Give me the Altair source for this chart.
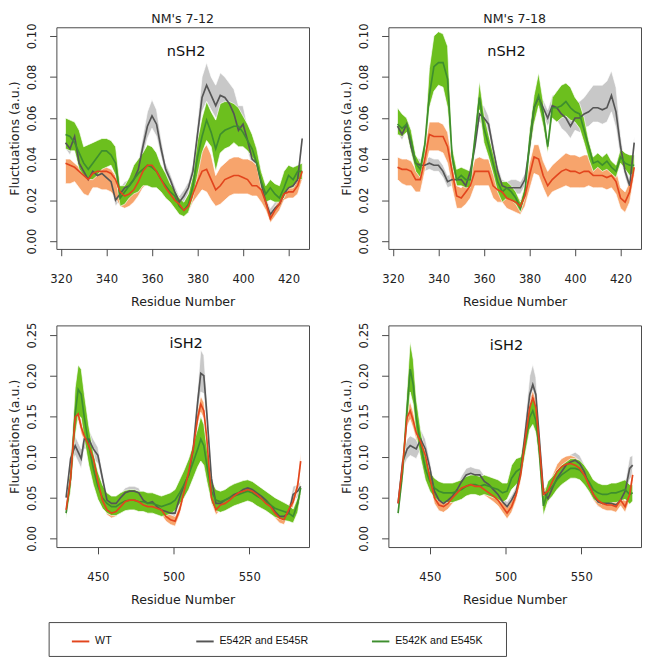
import altair as alt
import pandas as pd

SERIES = ["WT", "E542R and E545R", "E542K and E545K"]
LINE_COLORS = ["#E2451D", "#555555", "#3E8E2E"]
BAND_COLORS = ["#F7A46C", "#C8C8C8", "#6CBF1E"]

COL_TITLES = ["NM's 7-12", "NM's 7-18"]
DOMAINS = ["nSH2", "iSH2"]

RES_N = list(range(322, 427, 2))
RES_I = [429, 432, 435, 437, 439, 441, 444, 447, 450, 453, 456, 459, 462, 465, 468, 471,
         474, 477, 480, 483, 486, 489, 492, 495, 498, 501, 504, 507, 510, 513, 516, 518,
         520, 522, 525, 528, 531, 534, 537, 540, 543, 546, 549, 552, 555, 558, 561, 564,
         567, 570, 573, 576, 579, 582, 584]

X_TICKS_N = [320, 340, 360, 380, 400, 420]
X_TICKS_I = [450, 500, 550]
Y_TICKS_N = [0.00, 0.02, 0.04, 0.06, 0.08, 0.10]
Y_TICKS_I = [0.00, 0.05, 0.10, 0.15, 0.20, 0.25]

# ---------------- NM's 7-12, nSH2 ----------------
A_WT = [.038,.037,.036,.034,.032,.030,.033,.034,.034,.034, .033,.030,.024,.022,.023,.025,.029,.034,.037,.037,
        .034,.030,.026,.023,.020,.018,.015,.017,.023,.029, .034,.035,.030,.025,.027,.030,.031,.032,.032,.031,
        .030,.027,.027,.025,.019,.011,.015,.018,.023,.024, .024,.027,.034]
A_WT_HI = [.040,.040,.038,.036,.034,.033,.035,.036,.036,.036, .035,.032,.026,.025,.025,.028,.031,.036,.039,.039,
           .036,.032,.028,.025,.022,.020,.017,.019,.027,.036, .044,.047,.042,.032,.036,.038,.040,.041,.041,.040,
           .040,.039,.037,.033,.023,.013,.017,.020,.025,.026, .026,.030,.036]
A_WT_LO = [.028,.028,.029,.026,.023,.022,.026,.026,.025,.025, .024,.021,.017,.016,.017,.019,.022,.026,.028,.029,
           .027,.024,.021,.019,.017,.015,.013,.014,.019,.022, .025,.024,.020,.017,.018,.020,.022,.023,.023,.023,
           .023,.022,.022,.019,.015,.009,.012,.015,.020,.021, .021,.023,.030]
A_GR = [.048,.045,.051,.038,.034,.030,.034,.032,.033,.031, .029,.020,.023,.026,.027,.030,.035,.046,.056,.061,
        .057,.045,.035,.030,.024,.019,.022,.026,.034,.052, .070,.076,.071,.066,.071,.070,.067,.062,.054,.057,
        .049,.040,.038,.028,.019,.013,.016,.018,.023,.026, .027,.030,.050]
A_GR_HI = [.050,.047,.053,.041,.037,.033,.036,.035,.036,.034, .032,.024,.026,.029,.030,.033,.039,.051,.063,.069,
           .064,.050,.038,.033,.027,.022,.025,.029,.038,.058, .080,.087,.080,.076,.082,.080,.077,.074,.066,.066,
           .056,.045,.041,.031,.022,.016,.019,.021,.026,.029, .030,.033,.052]
A_GR_LO = [.045,.042,.048,.035,.031,.027,.031,.029,.030,.028, .026,.017,.020,.023,.024,.027,.031,.041,.050,.055,
           .051,.041,.032,.027,.021,.016,.019,.023,.031,.047, .063,.068,.064,.060,.062,.062,.060,.056,.050,.052,
           .044,.036,.035,.025,.016,.010,.013,.015,.020,.023, .024,.027,.047]
A_GK = [.052,.051,.048,.043,.038,.035,.038,.041,.044,.044, .042,.038,.021,.024,.027,.030,.033,.035,.037,.036,
        .034,.030,.027,.024,.022,.017,.015,.018,.027,.041, .051,.059,.053,.045,.052,.054,.055,.056,.056,.053,
        .049,.045,.038,.029,.023,.026,.023,.021,.026,.032, .030,.034,.034]
A_GK_HI = [.060,.059,.058,.054,.046,.047,.048,.049,.050,.050, .049,.046,.027,.027,.031,.037,.040,.043,.047,.046,
           .043,.037,.033,.028,.025,.021,.019,.023,.032,.049, .060,.068,.063,.059,.067,.068,.068,.067,.065,.061,
           .057,.052,.045,.034,.027,.030,.028,.027,.034,.037, .036,.037,.038]
A_GK_LO = [.045,.044,.044,.035,.032,.030,.030,.032,.035,.036, .037,.032,.017,.018,.021,.023,.024,.027,.027,.026,
           .026,.024,.021,.019,.016,.013,.012,.014,.021,.032, .043,.049,.046,.034,.043,.045,.046,.048,.046,.046,
           .044,.041,.037,.026,.019,.020,.019,.019,.021,.026, .026,.030,.030]

# ---------------- NM's 7-18, nSH2 ----------------
B_WT = [.036,.035,.035,.034,.030,.030,.040,.052,.051,.051, .051,.046,.034,.022,.021,.024,.027,.034,.034,.034,
        .034,.027,.025,.024,.021,.020,.019,.017,.022,.032, .041,.040,.032,.027,.030,.032,.034,.035,.034,.034,
        .033,.034,.034,.032,.032,.032,.031,.032,.029,.021, .019,.024,.036]
B_WT_HI = [.041,.040,.040,.039,.035,.035,.046,.058,.058,.058, .057,.053,.040,.027,.026,.029,.032,.040,.041,.040,
           .040,.033,.030,.029,.026,.025,.023,.020,.027,.038, .047,.047,.039,.034,.037,.039,.041,.043,.042,.042,
           .041,.042,.042,.040,.039,.038,.037,.038,.035,.026, .024,.029,.039]
B_WT_LO = [.030,.028,.027,.027,.024,.024,.034,.044,.044,.044, .043,.038,.026,.016,.016,.018,.021,.027,.027,.027,
           .027,.021,.019,.019,.016,.015,.014,.013,.017,.025, .033,.032,.026,.021,.024,.025,.026,.027,.026,.026,
           .026,.026,.027,.026,.026,.026,.025,.026,.023,.016, .014,.019,.032]
B_GR = [.056,.052,.057,.046,.038,.037,.037,.038,.037,.037, .034,.029,.030,.030,.030,.027,.034,.046,.062,.060,
        .057,.045,.034,.027,.026,.026,.026,.026,.030,.046, .065,.070,.065,.060,.066,.065,.062,.060,.056,.060,
        .060,.062,.063,.065,.065,.064,.065,.071,.063,.046, .034,.027,.048]
B_GR_HI = [.059,.055,.060,.049,.041,.040,.040,.041,.040,.040, .037,.032,.033,.033,.033,.030,.037,.050,.066,.066,
           .061,.049,.037,.030,.029,.030,.030,.029,.033,.050, .069,.074,.069,.064,.071,.072,.071,.070,.067,.068,
           .068,.070,.073,.076,.076,.076,.078,.083,.075,.052, .037,.030,.051]
B_GR_LO = [.053,.049,.054,.043,.035,.034,.034,.035,.034,.034, .031,.026,.027,.027,.027,.024,.031,.042,.058,.056,
           .053,.041,.031,.024,.023,.023,.023,.023,.027,.042, .061,.066,.061,.056,.061,.059,.055,.053,.050,.054,
           .053,.055,.056,.058,.058,.057,.058,.063,.055,.040, .031,.024,.045]
B_GK = [.057,.055,.057,.049,.038,.035,.047,.071,.085,.087, .087,.079,.041,.030,.032,.030,.030,.050,.070,.055,
        .047,.038,.029,.024,.026,.024,.021,.016,.024,.048, .065,.071,.062,.046,.065,.065,.066,.068,.065,.063,
        .062,.054,.046,.038,.039,.037,.039,.036,.034,.041, .038,.037,.037]
B_GK_HI = [.065,.062,.060,.054,.042,.038,.050,.084,.100,.102, .101,.095,.046,.035,.036,.035,.034,.054,.078,.062,
           .052,.043,.034,.029,.029,.027,.024,.019,.027,.054, .071,.082,.068,.049,.070,.073,.076,.077,.075,.070,
           .067,.060,.049,.041,.043,.041,.043,.039,.037,.045, .043,.042,.042]
B_GK_LO = [.052,.051,.053,.043,.034,.031,.042,.065,.073,.076, .075,.065,.037,.027,.027,.026,.026,.045,.064,.048,
           .041,.033,.024,.019,.021,.020,.018,.014,.021,.042, .057,.066,.056,.043,.060,.058,.060,.061,.059,.058,
           .055,.048,.040,.034,.036,.034,.035,.033,.031,.038, .035,.032,.033]

# ---------------- NM's 7-12, iSH2 ----------------
C_WT = [.035,.074,.149,.153,.137,.126,.114,.098,.070,.047, .035,.031,.033,.039,.045,.047,.047,.045,.041,.039,
        .039,.037,.035,.027,.023,.021,.035,.058,.082,.110, .149,.165,.157,.122,.050,.035,.041,.043,.047,.052,
        .056,.058,.060,.058,.054,.049,.043,.039,.031,.025, .023,.035,.045,.065,.095]
C_WT_HI = [.040,.082,.157,.161,.145,.133,.121,.105,.077,.053, .041,.037,.039,.045,.051,.053,.053,.051,.047,.045,
           .045,.043,.041,.033,.029,.027,.041,.065,.090,.118, .158,.175,.167,.130,.057,.041,.047,.049,.053,.058,
           .062,.064,.066,.064,.060,.055,.049,.045,.037,.031, .029,.041,.051,.072,.106]
C_WT_LO = [.030,.066,.141,.145,.129,.119,.107,.091,.063,.041, .029,.025,.027,.033,.039,.041,.041,.039,.035,.033,
           .033,.031,.029,.021,.017,.015,.029,.051,.074,.102, .140,.155,.147,.114,.043,.029,.035,.037,.041,.046,
           .050,.052,.054,.052,.048,.043,.037,.033,.025,.019, .017,.029,.039,.058,.086]
C_GR = [.050,.098,.114,.106,.098,.122,.122,.110,.102,.074, .047,.043,.043,.050,.056,.058,.058,.056,.047,.043,
        .045,.039,.035,.033,.031,.031,.050,.066,.078,.110, .169,.203,.200,.153,.074,.043,.043,.047,.050,.054,
        .056,.060,.062,.060,.056,.052,.047,.041,.033,.027, .027,.031,.054,.058,.064]
C_GR_HI = [.055,.108,.126,.118,.110,.134,.134,.122,.112,.082, .053,.048,.048,.055,.062,.064,.064,.062,.052,.048,
           .050,.044,.040,.038,.036,.036,.055,.072,.086,.122, .185,.232,.225,.172,.082,.048,.048,.052,.055,.059,
           .061,.065,.067,.065,.061,.057,.052,.046,.038,.032, .032,.038,.064,.066,.070]
C_GR_LO = [.045,.088,.102,.094,.086,.110,.110,.098,.092,.066, .041,.038,.038,.045,.050,.052,.052,.050,.042,.038,
           .040,.034,.030,.028,.026,.026,.045,.060,.070,.098, .153,.180,.178,.136,.066,.038,.038,.042,.045,.049,
           .051,.055,.057,.055,.051,.047,.042,.036,.028,.022, .022,.026,.046,.050,.058]
C_GK = [.031,.074,.153,.183,.177,.149,.114,.086,.064,.050, .043,.039,.039,.043,.046,.047,.047,.045,.045,.043,
        .043,.041,.039,.041,.043,.047,.056,.066,.078,.094, .110,.122,.114,.090,.058,.047,.045,.047,.050,.052,
        .054,.056,.058,.056,.052,.049,.045,.041,.037,.035, .033,.031,.027,.043,.062]
C_GK_HI = [.038,.090,.185,.213,.208,.178,.138,.106,.082,.066, .056,.052,.052,.056,.059,.060,.060,.058,.058,.056,
           .056,.054,.052,.054,.056,.060,.072,.084,.098,.116, .135,.150,.140,.112,.072,.060,.058,.060,.064,.067,
           .069,.071,.072,.070,.066,.062,.058,.054,.050,.047, .044,.041,.036,.050,.068]
C_GK_LO = [.025,.058,.125,.152,.148,.122,.090,.066,.048,.037, .031,.028,.028,.031,.034,.035,.035,.033,.033,.031,
           .031,.029,.027,.028,.030,.034,.042,.050,.060,.074, .088,.095,.090,.070,.044,.034,.032,.034,.037,.040,
           .042,.044,.046,.044,.040,.037,.034,.030,.026,.024, .022,.021,.019,.032,.054]

# ---------------- NM's 7-18, iSH2 ----------------
D_WT = [.043,.090,.149,.157,.145,.130,.118,.102,.074,.050, .041,.039,.043,.050,.056,.062,.064,.066,.064,.064,
        .060,.056,.052,.047,.039,.031,.039,.054,.078,.122, .161,.173,.161,.122,.054,.058,.070,.082,.088,.091,
        .092,.090,.086,.078,.066,.054,.047,.043,.041,.041, .039,.047,.039,.054,.078]
D_WT_HI = [.048,.098,.160,.168,.155,.139,.126,.110,.081,.057, .048,.046,.050,.057,.063,.069,.071,.073,.071,.071,
           .067,.063,.059,.054,.046,.038,.046,.061,.086,.131, .170,.182,.170,.131,.061,.065,.078,.091,.098,.101,
           .102,.100,.095,.086,.073,.061,.054,.050,.048,.048, .046,.054,.046,.061,.085]
D_WT_LO = [.038,.082,.138,.146,.135,.121,.110,.094,.067,.043, .034,.032,.036,.043,.049,.055,.057,.059,.057,.057,
           .053,.049,.045,.040,.032,.024,.032,.047,.070,.113, .152,.164,.152,.113,.047,.051,.062,.073,.078,.081,
           .082,.080,.077,.070,.059,.047,.040,.036,.034,.034, .032,.040,.032,.047,.071]
D_GR = [.043,.094,.110,.114,.112,.110,.122,.110,.086,.058, .047,.043,.047,.052,.060,.070,.078,.080,.078,.078,
        .070,.066,.060,.054,.045,.039,.047,.058,.082,.130, .177,.189,.177,.130,.058,.049,.062,.074,.082,.090,
        .094,.096,.092,.082,.066,.054,.045,.043,.043,.043, .041,.047,.058,.086,.090]
D_GR_HI = [.048,.104,.122,.126,.124,.122,.134,.122,.096,.065, .053,.049,.053,.058,.066,.077,.086,.088,.086,.085,
           .077,.072,.066,.060,.051,.045,.053,.064,.090,.145, .200,.214,.198,.145,.065,.055,.069,.081,.090,.098,
           .103,.106,.102,.091,.074,.060,.051,.049,.049,.049, .047,.054,.068,.100,.102]
D_GR_LO = [.038,.084,.098,.102,.100,.098,.110,.098,.076,.051, .041,.037,.041,.046,.054,.063,.070,.072,.070,.071,
           .063,.060,.054,.048,.039,.033,.041,.052,.074,.115, .156,.166,.158,.115,.051,.043,.055,.067,.074,.082,
           .085,.086,.082,.073,.058,.048,.039,.037,.037,.037, .035,.040,.048,.072,.078]
D_GK = [.031,.082,.161,.208,.189,.149,.114,.086,.070,.062, .058,.056,.056,.056,.058,.060,.064,.066,.066,.064,
        .066,.064,.062,.060,.056,.058,.074,.082,.086,.118, .149,.157,.145,.114,.040,.058,.064,.072,.078,.082,
        .086,.086,.084,.078,.070,.060,.056,.054,.054,.056, .056,.058,.060,.054,.056]
D_GK_HI = [.036,.095,.185,.242,.220,.172,.132,.100,.082,.074, .070,.068,.068,.068,.070,.072,.076,.078,.078,.076,
           .078,.076,.074,.072,.068,.068,.090,.098,.100,.132, .165,.175,.162,.130,.052,.070,.076,.084,.090,.094,
           .098,.098,.096,.090,.082,.072,.068,.066,.066,.068, .068,.070,.072,.066,.066]
D_GK_LO = [.027,.070,.140,.180,.165,.128,.098,.072,.058,.050, .046,.044,.044,.044,.046,.048,.052,.054,.054,.052,
           .054,.052,.050,.048,.044,.048,.060,.066,.072,.104, .134,.140,.130,.098,.028,.046,.052,.060,.066,.070,
           .074,.074,.072,.066,.058,.048,.044,.042,.042,.044, .044,.046,.048,.042,.046]


def build(res, parts):
    rows = []
    for name, (m, lo, hi) in zip(SERIES, parts):
        assert len(m) == len(lo) == len(hi) == len(res), (name, len(m), len(lo), len(hi))
        for r, a, b, c in zip(res, m, lo, hi):
            rows.append({"residue": r, "series": name, "mean": a, "lo": b, "hi": c})
    return pd.DataFrame(rows)


df_A = build(RES_N, [(A_WT, A_WT_LO, A_WT_HI), (A_GR, A_GR_LO, A_GR_HI), (A_GK, A_GK_LO, A_GK_HI)])
df_B = build(RES_N, [(B_WT, B_WT_LO, B_WT_HI), (B_GR, B_GR_LO, B_GR_HI), (B_GK, B_GK_LO, B_GK_HI)])
df_C = build(RES_I, [(C_WT, C_WT_LO, C_WT_HI), (C_GR, C_GR_LO, C_GR_HI), (C_GK, C_GK_LO, C_GK_HI)])
df_D = build(RES_I, [(D_WT, D_WT_LO, D_WT_HI), (D_GR, D_GR_LO, D_GR_HI), (D_GK, D_GK_LO, D_GK_HI)])

W, H = 261, 229
FONT = "DejaVu Sans"

color_scale = alt.Scale(domain=SERIES, range=LINE_COLORS)
fill_scale = alt.Scale(domain=SERIES, range=BAND_COLORS)


def panel(df, xdom, ydom, xticks, yticks, label, lab_x, lab_y, title=None):
    xaxis = alt.Axis(values=xticks, title="Residue Number", labelPadding=19, titlePadding=11,
                     labelFlush=False, labelOverlap=False)
    yaxis = alt.Axis(values=yticks, format=".2f", title="Fluctuations (a.u.)", labelAngle=270,
                     labelAlign="center", labelBaseline="bottom", labelPadding=12, titlePadding=4,
                     labelFlush=False, labelOverlap=False)

    def X(f):
        return alt.X(f, type="quantitative", scale=alt.Scale(domain=xdom, nice=False, zero=False), axis=xaxis)

    def Y(f):
        return alt.Y(f, type="quantitative", scale=alt.Scale(domain=ydom, nice=False, zero=False), axis=yaxis)

    base = alt.Chart(df)
    layers = []
    for s in [SERIES[1], SERIES[0], SERIES[2]]:
        layers.append(
            base.transform_filter(alt.datum.series == s)
            .mark_area(stroke="white", strokeWidth=0.7)
            .encode(x=X("residue"), y=Y("lo"), y2=alt.Y2("hi"),
                    fill=alt.Fill("series:N", scale=fill_scale, legend=None))
        )
    for s in [SERIES[1], SERIES[2], SERIES[0]]:
        layers.append(
            base.transform_filter(alt.datum.series == s)
            .mark_line(strokeWidth=1.7)
            .encode(x=X("residue"), y=Y("mean"),
                    color=alt.Color("series:N", scale=color_scale, legend=None))
        )
    layers.append(
        alt.Chart(pd.DataFrame({"t": [label]})).mark_text(font=FONT, fontSize=15, color="#111")
        .encode(text="t:N", x=alt.value(lab_x), y=alt.value(lab_y))
    )
    ch = alt.layer(*layers).properties(width=W, height=H)
    if title is not None:
        ch = ch.properties(title=alt.Title(title, font=FONT, fontSize=13, fontWeight="normal",
                                           color="#222", offset=-3, anchor="middle", frame="group"))
    return ch


XD_N = [318.0, 429.0]
XD_I = [422.6, 589.5]
YD_N = [-0.0038, 0.1042]
YD_I = [-0.0107, 0.2618]

pA = panel(df_A, XD_N, YD_N, X_TICKS_N, Y_TICKS_N, DOMAINS[0], 134, 25, COL_TITLES[0])
pB = panel(df_B, XD_N, YD_N, X_TICKS_N, Y_TICKS_N, DOMAINS[0], 122, 25, COL_TITLES[1])
pC = panel(df_C, XD_I, YD_I, X_TICKS_I, Y_TICKS_I, DOMAINS[1], 134, 18)
pD = panel(df_D, XD_I, YD_I, X_TICKS_I, Y_TICKS_I, DOMAINS[1], 122, 20)

# legend (its origin lines up with the left edge of the first plot area)
LW, LH = 470, 35
LEG_LINE_X = [25, 153.5, 335]
leg_layers = [
    alt.Chart(pd.DataFrame({"k": [0]})).mark_rect(fill="white", fillOpacity=0, stroke="#444", strokeWidth=1)
    .encode(x=alt.value(-7.5), x2=alt.value(465), y=alt.value(0), y2=alt.value(LH))
]
for s, px in zip(SERIES, LEG_LINE_X):
    sdf = pd.DataFrame({"series": [s]})
    leg_layers.append(
        alt.Chart(sdf).mark_point(shape="stroke", size=324, strokeWidth=2, opacity=1)
        .encode(x=alt.value(px), y=alt.value(19.5),
                color=alt.Color("series:N", scale=color_scale, legend=None))
    )
    leg_layers.append(
        alt.Chart(sdf).mark_text(align="left", baseline="middle", font="Liberation Sans",
                                 fontSize=11, color="#111")
        .encode(x=alt.value(px + 15), y=alt.value(19.5), text="series:N")
    )
legend = alt.layer(*leg_layers).properties(width=LW, height=LH,
                                           view=alt.ViewBackground(stroke="transparent"))

row1 = alt.hconcat(pA, pB, spacing=31)
row2 = alt.hconcat(pC, pD, spacing=31)
grid = alt.vconcat(row1, row2, spacing=13)
chart = alt.vconcat(grid, legend, spacing=15).properties(
    padding={"left": 0, "top": -6, "right": 0, "bottom": 0}
).configure_view(
    stroke="#444", strokeWidth=1
).configure_axis(
    labelFont=FONT, labelFontSize=12, labelColor="#222",
    titleFont=FONT, titleFontSize=13, titleFontWeight="normal", titleColor="#222",
    tickColor="#444", tickSize=7, domain=False, grid=False, offset=0,
)

chart.save("out.html", embed_options={"renderer": "svg", "actions": False})
